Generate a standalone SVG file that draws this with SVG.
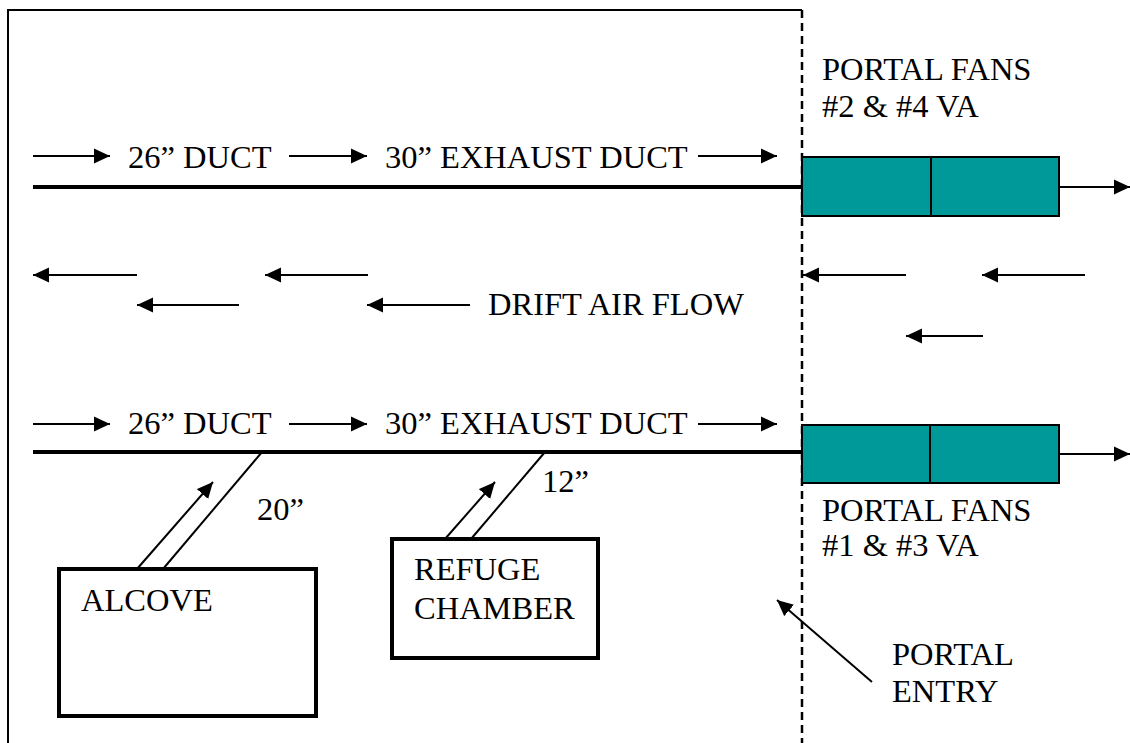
<svg xmlns="http://www.w3.org/2000/svg" width="1130" height="743" viewBox="0 0 1130 743">
<style>
text{font-family:"Liberation Serif","Times New Roman",serif;font-size:32.5px;fill:#000}
.ar{stroke:#000;stroke-width:2;fill:none;marker-end:url(#ah)}
.duct{stroke:#000;stroke-width:4;fill:none}
.thin{stroke:#000;stroke-width:2;fill:none}
.box{fill:#fff;stroke:#000;stroke-width:4}
.fan{fill:#009999;stroke:#000;stroke-width:2}
</style>
<defs>
<marker id="ah" markerUnits="userSpaceOnUse" markerWidth="18" markerHeight="16" refX="16" refY="8" orient="auto">
<polygon points="0,0.5 16,8 0,15.5" fill="#000"/>
</marker>
</defs>
<rect width="1130" height="743" fill="#fff"/>
<g id="walls">
<path class="thin" d="M8,743 V10 H802"/>
<line x1="802" y1="10" x2="802" y2="743" stroke="#000" stroke-width="2.5" stroke-dasharray="8,5"/>
</g>
<g id="connectors">
<line class="duct" x1="33" y1="187" x2="802" y2="187"/>
<line class="duct" x1="33" y1="452" x2="802" y2="452"/>
<line class="ar" x1="33" y1="156" x2="110" y2="156"/>
<line class="ar" x1="289" y1="156" x2="367" y2="156"/>
<line class="ar" x1="698" y1="156" x2="777" y2="156"/>
<line class="ar" x1="33" y1="424" x2="110" y2="424"/>
<line class="ar" x1="289" y1="424" x2="367" y2="424"/>
<line class="ar" x1="698" y1="424" x2="777" y2="424"/>
<line class="ar" x1="1059" y1="187" x2="1130" y2="187"/>
<line class="ar" x1="1059" y1="454" x2="1130" y2="454"/>
<line class="ar" x1="137" y1="275" x2="33" y2="275"/>
<line class="ar" x1="368" y1="275" x2="265" y2="275"/>
<line class="ar" x1="239" y1="305" x2="137" y2="305"/>
<line class="ar" x1="470" y1="305" x2="367" y2="305"/>
<line class="ar" x1="906" y1="275" x2="803" y2="275"/>
<line class="ar" x1="1085" y1="275" x2="982" y2="275"/>
<line class="ar" x1="983" y1="336" x2="906" y2="336"/>
<line class="thin" x1="262" y1="452" x2="163" y2="569"/>
<line class="ar" x1="137" y1="569" x2="213" y2="482"/>
<line class="thin" x1="545" y1="452" x2="471" y2="539"/>
<line class="ar" x1="445" y1="539" x2="495" y2="482"/>
<line class="ar" x1="872" y1="682" x2="777" y2="600"/>
</g>
<g id="labels">
<text x="128" y="168">26” DUCT</text>
<text x="385" y="168">30” EXHAUST DUCT</text>
<text x="128" y="434">26” DUCT</text>
<text x="385" y="434">30” EXHAUST DUCT</text>
<text x="488" y="315">DRIFT AIR FLOW</text>
<text x="257" y="520">20”</text>
<text x="542" y="492">12”</text>
</g>
<g id="fans-top">
<rect class="fan" x="802" y="157" width="257" height="59"/>
<line class="thin" x1="931" y1="157" x2="931" y2="216"/>
<text x="822" y="80">PORTAL FANS</text>
<text x="822" y="117">#2 &amp; #4 VA</text>
</g>
<g id="fans-bottom">
<rect class="fan" x="802" y="425" width="257" height="58"/>
<line class="thin" x1="930" y1="425" x2="930" y2="483"/>
<text x="822" y="521">PORTAL FANS</text>
<text x="822" y="556">#1 &amp; #3 VA</text>
</g>
<g id="alcove">
<rect class="box" x="59" y="569" width="257" height="147"/>
<text x="81" y="611">ALCOVE</text>
</g>
<g id="refuge">
<rect class="box" x="392" y="539" width="206" height="119"/>
<text x="414" y="580">REFUGE</text>
<text x="414" y="619">CHAMBER</text>
</g>
<g id="portal-entry">
<text x="892" y="665">PORTAL</text>
<text x="892" y="702">ENTRY</text>
</g>
</svg>
